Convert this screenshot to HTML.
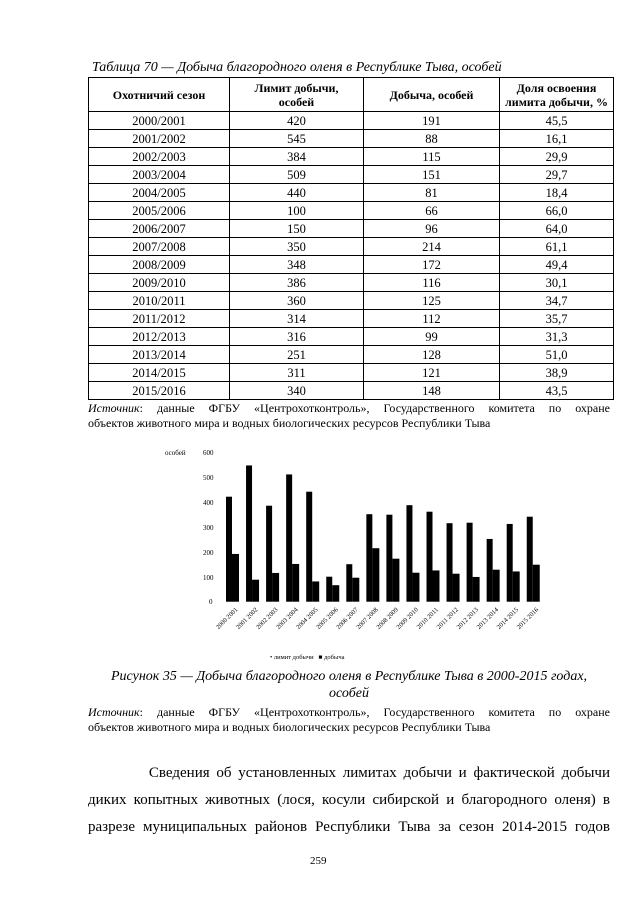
<!DOCTYPE html>
<html><head><meta charset="utf-8"><style>
body{margin:0;width:640px;height:905px;background:#fff;position:relative;font-family:"Liberation Serif","DejaVu Serif",serif;color:#000;overflow:hidden}
.a{position:absolute;white-space:nowrap}
table{position:absolute;left:88px;top:77px;border-collapse:collapse;font-size:12.5px}
td{border:1px solid #000;text-align:center;padding:0;height:17px;line-height:16px}
th{border:1px solid #000;font-weight:bold;font-size:12px;line-height:14px;height:33px;padding:0}
.src{font-size:12px;left:88px;width:522px;text-align:justify;text-align-last:justify}
</style></head><body>
<div class="a" style="left:92px;top:60px;font-size:14px;font-style:italic">Таблица 70 — Добыча благородного оленя в Республике Тыва, особей</div>
<table>
<tr><th style="width:140px">Охотничий сезон</th><th style="width:133px">Лимит добычи,<br>особей</th><th style="width:135px">Добыча, особей</th><th style="width:113px">Доля освоения<br>лимита добычи, %</th></tr>
<tr><td>2000/2001</td><td>420</td><td>191</td><td>45,5</td></tr>
<tr><td>2001/2002</td><td>545</td><td>88</td><td>16,1</td></tr>
<tr><td>2002/2003</td><td>384</td><td>115</td><td>29,9</td></tr>
<tr><td>2003/2004</td><td>509</td><td>151</td><td>29,7</td></tr>
<tr><td>2004/2005</td><td>440</td><td>81</td><td>18,4</td></tr>
<tr><td>2005/2006</td><td>100</td><td>66</td><td>66,0</td></tr>
<tr><td>2006/2007</td><td>150</td><td>96</td><td>64,0</td></tr>
<tr><td>2007/2008</td><td>350</td><td>214</td><td>61,1</td></tr>
<tr><td>2008/2009</td><td>348</td><td>172</td><td>49,4</td></tr>
<tr><td>2009/2010</td><td>386</td><td>116</td><td>30,1</td></tr>
<tr><td>2010/2011</td><td>360</td><td>125</td><td>34,7</td></tr>
<tr><td>2011/2012</td><td>314</td><td>112</td><td>35,7</td></tr>
<tr><td>2012/2013</td><td>316</td><td>99</td><td>31,3</td></tr>
<tr><td>2013/2014</td><td>251</td><td>128</td><td>51,0</td></tr>
<tr><td>2014/2015</td><td>311</td><td>121</td><td>38,9</td></tr>
<tr><td>2015/2016</td><td>340</td><td>148</td><td>43,5</td></tr>
</table>
<div class="a src" style="top:401px"><i>Источник</i>: данные ФГБУ «Центрохотконтроль», Государственного комитета по охране</div>
<div class="a" style="left:88px;top:416px;font-size:12px">объектов животного мира и водных биологических ресурсов Республики Тыва</div>

<svg class="a" style="left:0;top:440px" width="640" height="230" font-family="Liberation Serif,serif">
<g font-size="7">
<text x="165" y="15">особей</text>
<text x="203" y="15">600</text><text x="203" y="40">500</text><text x="203" y="65">400</text><text x="203" y="90">300</text><text x="203" y="115">200</text><text x="203" y="140">100</text><text x="209" y="164">0</text>
</g>
<g id="bars"></g>
<g font-size="6.5" id="lbl"></g>
<text x="270" y="219" font-size="6.5">• лимит добычи&#160;&#160;&#160;■ добыча</text>
</svg>
<script>
var L=[420,545,384,509,440,100,150,350,348,386,360,314,316,251,311,340],D=[191,88,115,151,81,66,96,214,172,116,125,112,99,128,121,148];
var s='',t='';
for(var i=0;i<16;i++){var x=226+i*20.05;
s+='<rect x="'+x+'" y="'+(161.7-L[i]*0.25)+'" width="6" height="'+L[i]*0.25+'"/>';
s+='<rect x="'+(x+6)+'" y="'+(161.7-D[i]*0.25)+'" width="7" height="'+D[i]*0.25+'"/>';
var y=2000+i;t+='<text transform="translate('+(x+12)+',170) rotate(-45)" text-anchor="end">'+y+' '+(y+1)+'</text>';}
document.getElementById('bars').innerHTML=s;document.getElementById('lbl').innerHTML=t;
</script>
<div class="a" style="left:88px;top:668px;font-size:14px;font-style:italic;width:522px;text-align:center;line-height:17px">Рисунок 35 — Добыча благородного оленя в Республике Тыва в 2000-2015 годах,<br>особей</div>
<div class="a src" style="top:705px"><i>Источник</i>: данные ФГБУ «Центрохотконтроль», Государственного комитета по охране</div>
<div class="a" style="left:88px;top:720px;font-size:12px">объектов животного мира и водных биологических ресурсов Республики Тыва</div>
<div class="a" style="left:88px;width:522px;top:760px;font-size:15px;line-height:27px;text-align:justify;text-align-last:justify;white-space:normal">&#160;&#160;&#160;&#160;&#160;&#160;&#160;&#160;&#160;Сведения об установленных лимитах добычи и фактической добычи<br>диких копытных животных (лося, косули сибирской и благородного оленя) в<br>разрезе муниципальных районов Республики Тыва за сезон 2014-2015 годов</div>
<div class="a" style="left:310px;top:855px;font-size:11px">259</div>
</body></html>
